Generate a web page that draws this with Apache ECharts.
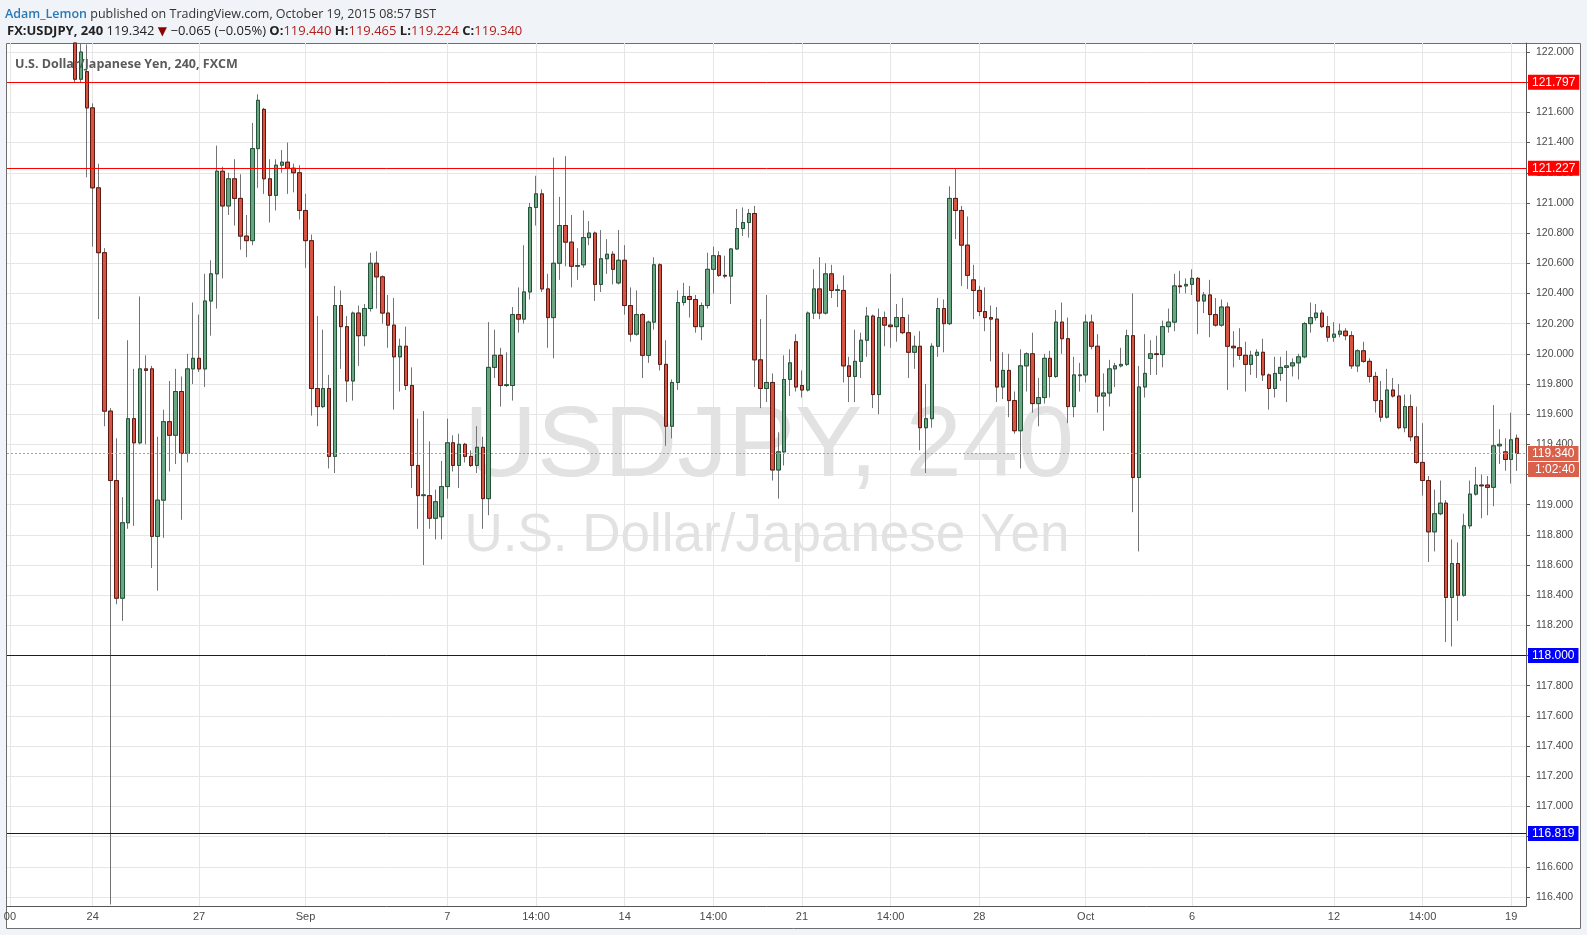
<!DOCTYPE html>
<html>
<head>
<meta charset="utf-8">
<title>USDJPY 240</title>
<script src="https://cdn.jsdelivr.net/npm/echarts@6.0.0/dist/echarts.min.js"></script>
<style>
html,body{margin:0;padding:0;background:#f0f3f7;overflow:hidden;}
#chart{width:1587px;height:935px;}
</style>
</head>
<body>
<div id="chart"></div>
<script>
// ---------- DATA (4h candles, FX:USDJPY) ----------
const openP = [
122.20,121.82,121.87,121.63,121.10,120.67,119.62,119.16,118.38,118.88,
119.57,119.41,119.90,119.90,118.79,119.03,119.55,119.46,119.75,119.34,
119.90,119.97,119.90,120.35,120.53,121.21,120.98,121.16,121.03,120.78,
120.75,121.36,121.62,121.16,121.05,121.25,121.27,121.23,121.20,120.95,
120.75,119.77,119.65,119.77,119.32,120.32,120.18,119.82,120.27,120.12,
120.30,120.60,120.51,120.27,120.19,119.98,120.05,119.79,119.26,119.06,
119.06,118.91,118.92,119.12,119.41,119.26,119.40,119.32,119.26,119.38,
119.04,119.91,119.99,119.79,119.79,120.26,120.23,120.41,120.97,121.06,
120.43,120.24,120.60,120.85,120.74,120.58,120.59,120.77,120.80,120.46,
120.63,120.66,120.47,120.62,120.32,120.13,120.26,119.99,120.21,120.59,
119.93,119.52,119.81,120.34,120.38,120.36,120.18,120.32,120.56,120.65,
120.52,120.515,120.695,120.83,120.87,120.93,119.96,119.77,119.81,119.23,
119.35,119.83,120.08,119.79,119.76,120.27,120.43,120.27,120.53,120.42,
120.42,119.92,119.85,119.95,120.09,120.25,119.73,120.24,120.19,120.18,
120.24,120.14,120.01,120.05,119.51,119.57,120.05,120.30,120.20,121.03,
120.95,120.72,120.49,120.42,120.28,120.24,120.23,119.78,119.89,119.69,
119.49,119.92,120.00,119.67,119.71,119.97,119.85,120.21,120.10,119.65,
119.855,119.86,120.21,120.05,119.72,119.74,119.90,119.92,119.93,120.12,
119.18,119.78,119.97,120.00,119.995,120.18,120.21,120.45,120.45,120.46,
120.50,120.35,120.39,120.26,120.19,120.31,120.05,120.04,119.99,119.93,
119.99,120.01,119.86,119.77,119.87,119.91,119.92,119.94,119.98,120.20,
120.24,120.27,120.18,120.11,120.13,120.15,120.12,119.92,120.02,119.95,
119.85,119.69,119.58,119.76,119.72,119.51,119.65,119.45,119.28,119.16,
118.82,118.94,119.01,118.385,118.61,118.40,118.86,119.07,119.13,119.13,
119.115,119.39,119.35,119.30,119.44
];
const highP = [
122.30,122.08,122.05,121.66,121.26,120.70,119.64,119.44,119.05,120.09,
119.90,120.38,119.99,119.92,119.45,119.63,119.82,119.90,119.85,120.00,
120.34,120.26,120.53,120.62,121.38,121.24,121.20,121.29,121.19,120.92,
121.53,121.72,121.63,121.29,121.29,121.35,121.40,121.26,121.25,121.06,
120.79,120.25,120.16,119.86,120.45,120.42,120.25,120.28,120.32,120.33,
120.67,120.68,120.52,120.39,120.37,120.10,120.18,119.91,119.57,119.62,
119.42,119.10,119.29,119.57,119.46,119.47,119.41,119.36,119.52,119.45,
120.21,120.16,120.04,120.01,120.31,120.44,120.72,121.00,121.18,121.09,
120.53,121.30,121.04,121.31,120.92,120.70,120.95,120.88,120.81,120.82,
120.76,120.68,120.82,120.72,120.44,120.42,120.27,120.22,120.64,120.60,
120.09,119.83,120.42,120.47,120.45,120.39,120.34,120.67,120.71,120.68,
120.65,120.70,120.96,120.97,120.96,120.98,120.23,120.39,119.87,119.48,
119.99,120.03,120.13,119.89,120.28,120.56,120.64,120.60,120.59,120.46,
120.52,119.98,120.16,120.14,120.31,120.26,120.30,120.28,120.53,120.33,
120.37,120.26,120.12,120.15,119.80,120.07,120.37,120.36,121.11,121.23,
120.98,120.91,120.59,120.45,120.44,120.32,120.31,120.01,120.00,119.75,
120.03,120.01,120.14,119.84,120.00,120.02,120.29,120.34,120.24,119.98,
119.94,120.26,120.26,120.13,119.87,119.96,119.94,120.04,120.16,120.40,
119.92,120.13,120.09,120.12,120.22,120.30,120.53,120.55,120.50,120.56,
120.51,120.41,120.49,120.37,120.36,120.34,120.15,120.17,120.08,120.02,
120.03,120.10,119.87,119.98,119.98,120.02,119.97,120.00,120.21,120.34,
120.33,120.29,120.25,120.21,120.20,120.17,120.15,120.03,120.08,119.97,
119.88,119.82,119.90,119.84,119.80,119.73,119.73,119.65,119.54,119.19,
119.10,119.16,119.03,118.77,118.75,118.94,119.16,119.25,119.20,119.19,
119.66,119.50,119.44,119.61,119.465
];
const lowP = [
121.80,121.80,121.17,120.71,120.23,119.52,116.35,118.34,118.23,118.84,
118.86,119.40,119.40,118.58,118.43,118.78,119.22,119.27,118.90,119.28,
119.80,119.88,119.78,120.12,120.30,120.50,120.92,120.85,120.69,120.64,
120.72,121.10,121.06,120.87,120.95,121.20,121.06,121.07,120.89,120.57,
119.59,119.52,119.64,119.24,119.21,119.90,119.68,119.69,119.92,120.05,
120.28,120.30,120.20,120.04,119.63,119.75,119.76,119.11,118.84,118.60,
118.84,118.77,118.77,119.04,119.22,119.11,119.28,119.25,119.21,118.84,
118.93,119.84,119.65,119.78,119.69,120.14,120.20,120.36,120.85,120.41,
120.04,119.97,120.49,120.58,120.44,120.49,120.57,120.72,120.35,120.41,
120.53,120.46,120.46,120.26,120.08,120.12,119.84,119.94,120.16,119.89,
119.39,119.44,119.76,120.32,120.24,120.14,120.09,120.30,120.40,120.51,
120.50,120.33,120.69,120.78,120.77,119.78,119.64,119.68,119.16,119.04,
119.26,119.72,119.75,119.71,119.75,120.23,120.23,120.26,120.37,120.31,
119.81,119.68,119.68,119.84,119.98,119.64,119.60,120.05,120.04,120.08,
120.13,119.84,119.90,119.36,119.21,119.51,119.98,120.01,120.19,120.76,
120.45,120.43,120.23,120.25,120.15,119.95,119.68,119.70,119.58,119.47,
119.24,119.75,119.61,119.52,119.67,119.71,119.84,120.00,119.54,119.58,
119.75,119.81,120.03,119.61,119.49,119.65,119.78,119.91,119.92,118.95,
118.69,119.71,119.86,119.86,119.91,120.14,120.15,120.40,120.40,120.39,
120.13,120.27,120.11,120.18,120.18,119.76,119.91,119.96,119.75,119.86,
119.84,119.82,119.63,119.71,119.82,119.68,119.85,119.83,119.97,120.14,
120.22,120.17,120.08,120.08,120.11,120.09,119.90,119.88,119.94,119.81,
119.61,119.55,119.57,119.71,119.50,119.48,119.42,119.27,119.06,118.62,
118.69,118.93,118.09,118.06,118.23,118.39,118.84,119.06,118.91,118.93,
118.99,119.27,119.225,119.14,119.224
];
const closeP = [
121.82,122.00,121.63,121.10,120.67,119.62,119.16,118.38,118.88,119.57,
119.41,119.90,119.89,118.79,119.03,119.55,119.46,119.75,119.34,119.90,
119.97,119.90,120.35,120.53,121.21,120.98,121.16,121.03,120.78,120.75,
121.36,121.68,121.16,121.05,121.25,121.27,121.23,121.20,120.95,120.75,
119.77,119.65,119.77,119.32,120.32,120.18,119.82,120.27,120.12,120.30,
120.60,120.51,120.27,120.19,119.98,120.05,119.79,119.26,119.06,119.065,
118.91,119.02,119.12,119.41,119.26,119.40,119.32,119.26,119.38,119.04,
119.91,119.99,119.79,119.795,120.26,120.23,120.41,120.97,121.06,120.43,
120.24,120.60,120.85,120.74,120.58,120.585,120.77,120.80,120.46,120.63,
120.66,120.56,120.62,120.32,120.13,120.26,119.99,120.21,120.59,119.93,
119.52,119.81,120.34,120.38,120.36,120.18,120.32,120.56,120.65,120.52,
120.515,120.695,120.83,120.87,120.93,119.96,119.77,119.81,119.23,119.35,
119.83,119.94,119.78,119.76,120.27,120.43,120.27,120.53,120.42,120.425,
119.92,119.85,119.95,120.09,120.25,119.73,120.24,120.19,120.18,120.24,
120.14,120.01,120.05,119.51,119.57,120.05,120.30,120.20,121.03,120.95,
120.72,120.52,120.42,120.28,120.24,120.23,119.78,119.89,119.69,119.49,
119.92,120.00,119.67,119.71,119.97,119.85,120.21,120.10,119.65,119.86,
119.86,120.21,120.05,119.72,119.74,119.90,119.92,119.93,120.12,119.18,
119.78,119.87,120.00,119.995,120.18,120.21,120.45,120.445,120.46,120.50,
120.35,120.39,120.26,120.19,120.31,120.05,120.04,119.99,119.93,119.99,
120.01,119.86,119.77,119.87,119.91,119.92,119.94,119.98,120.20,120.24,
120.27,120.18,120.11,120.13,120.15,120.12,119.92,120.02,119.95,119.85,
119.69,119.58,119.76,119.72,119.51,119.65,119.45,119.28,119.16,118.82,
118.94,119.01,118.385,118.61,118.40,118.86,119.07,119.13,119.125,119.115,
119.39,119.40,119.30,119.43,119.34
];
// x tick labels: [candle number (1 = first visible candle), text]
const xTickLabels = [[-10,'00'],[4,'24'],[22,'27'],[40,'Sep'],[64,'7'],[79,'14:00'],[94,'14'],[109,'14:00'],[124,'21'],[139,'14:00'],[154,'28'],[172,'Oct'],[190,'6'],[214,'12'],[229,'14:00'],[244,'19']];
// y tick labels
const yTickLabels = ['116.400','116.600','116.800','117.000','117.200','117.400','117.600','117.800','118.000','118.200','118.400','118.600','118.800','119.000','119.200','119.400','119.600','119.800','120.000','120.200','120.400','120.600','120.800','121.000','121.200','121.400','121.600','121.800','122.000'];
// horizontal level lines
const levelValues = [121.797, 121.227, 118.000, 116.819];
const lastPrice = 119.340;
const countdownText = '1:02:40';

// ---------- STYLE / LAYOUT ----------
const levelColors = ['#ff0000', '#ff0000', '#0000ff', '#0000ff'];
const Y_MIN = 116.34, Y_MAX = 122.06;
const SLOTS_BEFORE = 11, SLOTS_AFTER = 1;
const AXIS_FONT = '"Liberation Sans", Arial, sans-serif';
const HEAD_FONT = '"Open Sans", "Liberation Sans", sans-serif';

const nC = openP.length;
const totalSlots = SLOTS_BEFORE + nC + SLOTS_AFTER;
const categories = [];
for (let s = 0; s < totalSlots; s++) categories.push('s' + s);
const labelMap = new Map(xTickLabels.map(([k, t]) => [SLOTS_BEFORE + k - 1, t]));

// the pane cuts candles at its top edge
const cut = (v) => Math.min(v, Y_MAX);
const fullData = [], bodyData = [];
for (let s = 0; s < totalSlots; s++) {
  const i = s - SLOTS_BEFORE;
  if (i >= 0 && i < nC) {
    const o = cut(openP[i]), c = cut(closeP[i]), l = cut(lowP[i]), h = cut(highP[i]);
    fullData.push([o, c, l, h]);
    bodyData.push([o, c, Math.min(o, c), Math.max(o, c)]);
  } else {
    fullData.push('-');
    bodyData.push('-');
  }
}

const yTickValues = yTickLabels.map(Number);

const markData = levelValues.map((v, i) => ({
  yAxis: v,
  lineStyle: { color: levelColors[i], width: 1, type: 'solid' },
  label: {
    formatter: v.toFixed(3),
    backgroundColor: levelColors[i],
    color: '#ffffff',
    padding: [2, 4, 1, 4],
    fontSize: 12,
    fontFamily: AXIS_FONT
  }
}));
markData.push({
  yAxis: lastPrice,
  lineStyle: { color: '#e08878', width: 1, type: [2, 2] },
  label: {
    formatter: '{e| }\n{p|' + lastPrice.toFixed(3) + '}\n{t|' + countdownText + '}',
    color: '#ffffff',
    fontSize: 12,
    fontFamily: AXIS_FONT,
    rich: {
      e: { lineHeight: 16, fontSize: 12 },
      p: { backgroundColor: '#d9614c', color: '#fff', padding: [2, 4, 1, 4], lineHeight: 16, fontSize: 12, fontFamily: AXIS_FONT },
      t: { backgroundColor: '#d9614c', color: '#fff', padding: [2, 4, 1, 7], lineHeight: 16, fontSize: 12, fontFamily: AXIS_FONT }
    }
  }
});

const option = {
  animation: false,
  backgroundColor: '#f0f3f7',
  title: [
    {
      left: 0, top: 3,
      text: '{u|Adam_Lemon} {n|published on TradingView.com, October 19, 2015 08:57 BST}',
      textStyle: {
        fontSize: 12.5, fontWeight: 'normal', fontFamily: HEAD_FONT,
        rich: {
          u: { color: '#2a79b7', fontSize: 12.5, fontWeight: 600, fontFamily: HEAD_FONT },
          n: { color: '#333333', fontSize: 12.5, fontWeight: 'normal', fontFamily: HEAD_FONT }
        }
      }
    },
    {
      left: 2, top: 20,
      text: '{b|FX:USDJPY, 240} {n|119.342} {d|▼} {n|\u22120.065 (\u22120.05%)} {b|O:}{r|119.440} {b|H:}{r|119.465} {b|L:}{r|119.224} {b|C:}{r|119.340}',
      textStyle: {
        fontSize: 13, fontWeight: 'normal', fontFamily: HEAD_FONT,
        rich: {
          b: { color: '#222222', fontWeight: 'bold', fontSize: 13, fontFamily: HEAD_FONT },
          n: { color: '#222222', fontWeight: 'normal', fontSize: 13, fontFamily: HEAD_FONT },
          d: { color: '#8b0000', fontWeight: 'normal', fontSize: 12, fontFamily: 'DejaVu Sans' },
          r: { color: '#b3201b', fontWeight: 'normal', fontSize: 13, fontFamily: HEAD_FONT }
        }
      }
    },
    {
      left: 10, top: 53, z: 10,
      text: 'U.S. Dollar/Japanese Yen, 240, FXCM',
      textStyle: { fontSize: 12.5, fontWeight: 'bold', color: '#5a5a5a', fontFamily: HEAD_FONT }
    }
  ],
  graphic: [
    {
      type: 'rect', z: -10, silent: true,
      shape: { x: 6.5, y: 43.5, width: 1574, height: 885 },
      style: { fill: '#ffffff', stroke: '#6e6e6e', lineWidth: 1 }
    },
    {
      type: 'text', z: 1, silent: true, x: 769, y: 448,
      style: { text: 'USDJPY, 240', font: '101px "Liberation Sans", Arial, sans-serif', fill: '#e2e2e2', align: 'center', verticalAlign: 'middle' }
    },
    {
      type: 'text', z: 1, silent: true, x: 767, y: 536,
      style: { text: 'U.S. Dollar/Japanese Yen', font: '53px "Liberation Sans", Arial, sans-serif', fill: '#e2e2e2', align: 'center', verticalAlign: 'middle' }
    }
  ],
  grid: { left: 7, right: 61, top: 43, bottom: 29, containLabel: false, outerBoundsMode: 'none' },
  xAxis: {
    type: 'category',
    data: categories,
    boundaryGap: true,
    axisLine: { show: true, lineStyle: { color: '#555555', width: 1 } },
    axisTick: { show: false },
    axisLabel: {
      interval: (i) => labelMap.has(i),
      formatter: (v, i) => labelMap.get(i) || '',
      color: '#4a4a4a', fontSize: 11, fontFamily: AXIS_FONT, margin: 5
    },
    splitLine: {
      show: true,
      interval: (i) => labelMap.has(i),
      alignWithLabel: true,
      lineStyle: { color: '#e6e6e6', width: 1 }
    }
  },
  yAxis: {
    type: 'value',
    position: 'right',
    min: Y_MIN,
    max: Y_MAX,
    axisLine: { show: true, lineStyle: { color: '#555555', width: 1 } },
    axisTick: { show: true, length: 4, lineStyle: { color: '#555555' }, customValues: yTickValues },
    axisLabel: {
      customValues: yTickValues,
      formatter: (v) => Number(v).toFixed(3),
      color: '#4a4a4a', fontSize: 10.5, fontFamily: AXIS_FONT, margin: 10
    },
    splitLine: { show: true, lineStyle: { color: '#e6e6e6', width: 1 } }
  },
  series: [
    {
      name: 'wicks',
      type: 'candlestick',
      data: fullData,
      barWidth: 4,
      clip: true,
      silent: true,
      z: 2,
      itemStyle: {
        color: 'rgba(0,0,0,0)', color0: 'rgba(0,0,0,0)',
        borderColor: '#737375', borderColor0: '#737375', borderColorDoji: '#737375',
        borderWidth: 1
      }
    },
    {
      name: 'USDJPY',
      type: 'candlestick',
      data: bodyData,
      barWidth: 4,
      clip: true,
      z: 3,
      itemStyle: {
        color: '#6ba583', color0: '#d75442',
        borderColor: '#225437', borderColor0: '#5b1a13', borderColorDoji: '#5b1a13',
        borderWidth: 1
      },
      markLine: {
        silent: true,
        symbol: ['none', 'none'],
        animation: false,
        label: { show: true, position: 'end', distance: 2 },
        data: markData
      }
    }
  ]
};

const chart = echarts.init(document.getElementById('chart'));
chart.setOption(option);
</script>
</body>
</html>
